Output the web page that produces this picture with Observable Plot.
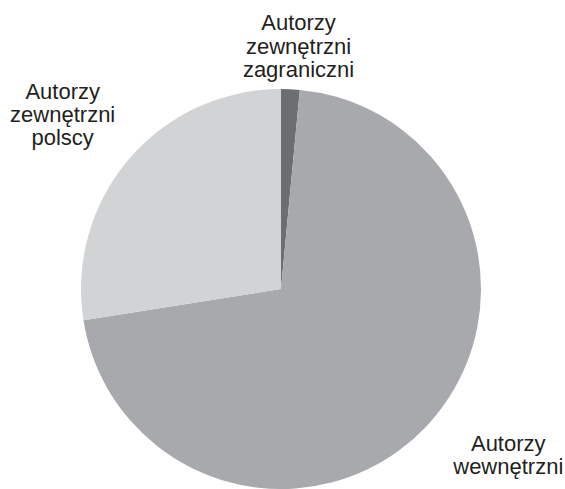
<!DOCTYPE html>
<html>
<head>
<meta charset="utf-8">
<script src="https://cdn.jsdelivr.net/npm/d3@7"></script>
<script src="https://cdn.jsdelivr.net/npm/@observablehq/plot@0.6"></script>
<style>
  html, body { margin: 0; padding: 0; background: #fff; }
  #chart { width: 565px; height: 489px; }
</style>
</head>
<body>
<div id="chart"></div>
<script>
// Data (percent shares), in drawing order clockwise from 12 o'clock
const categories = ["Autorzy\nzewnętrzni\nzagraniczni", "Autorzy\nwewnętrzni", "Autorzy\nzewnętrzni\npolscy"];
const shares = [1.5, 71.0, 27.5];
const colors = ["#6d6e71", "#a7a9ac", "#d1d3d4"];

const data = categories.map((c, i) => ({category: c, value: shares[i]}));

// layout (pixel-like units, pie centred at 0,0)
const R = 200;
// label placement: radial distance and angular offset (degrees) from the slice's mid-angle
const labelPlace = [
  {r: 244, dAngle: 1.3},
  {r: 281, dAngle: -7.0},
  {r: 280, dAngle: -1.9}
];

const arcs = d3.pie().sort(null).value(d => d.value)(data);
const labels = arcs.map((a, i) => {
  const mid = (a.startAngle + a.endAngle) / 2 + labelPlace[i].dAngle * Math.PI / 180;
  const r = labelPlace[i].r;
  return {text: a.data.category, x: r * Math.sin(mid), y: r * Math.cos(mid)};
});

function pieMark(index, scales) {
  const cx = scales.x(0), cy = scales.y(0);
  const r = Math.abs(scales.x(R) - scales.x(0));
  const arc = d3.arc().innerRadius(0).outerRadius(r);
  const g = d3.create("svg:g").attr("transform", `translate(${cx},${cy})`);
  g.selectAll("path")
    .data(arcs)
    .join("path")
    .attr("d", arc)
    .attr("fill", (d, i) => colors[i]);
  return g.node();
}

const chart = Plot.plot({
  width: 565,
  height: 489,
  margin: 0,
  style: {background: "#fff", fontFamily: "'Liberation Sans', Arial, sans-serif"},
  x: {domain: [-281, 284], axis: null},
  y: {domain: [-200, 289], axis: null},
  marks: [
    pieMark,
    Plot.text(labels, {
      x: "x", y: "y", text: "text",
      fontSize: 22, lineHeight: 1.05, fill: "#231f20",
      textAnchor: "middle"
    })
  ]
});
document.getElementById("chart").appendChild(chart);
</script>
</body>
</html>
